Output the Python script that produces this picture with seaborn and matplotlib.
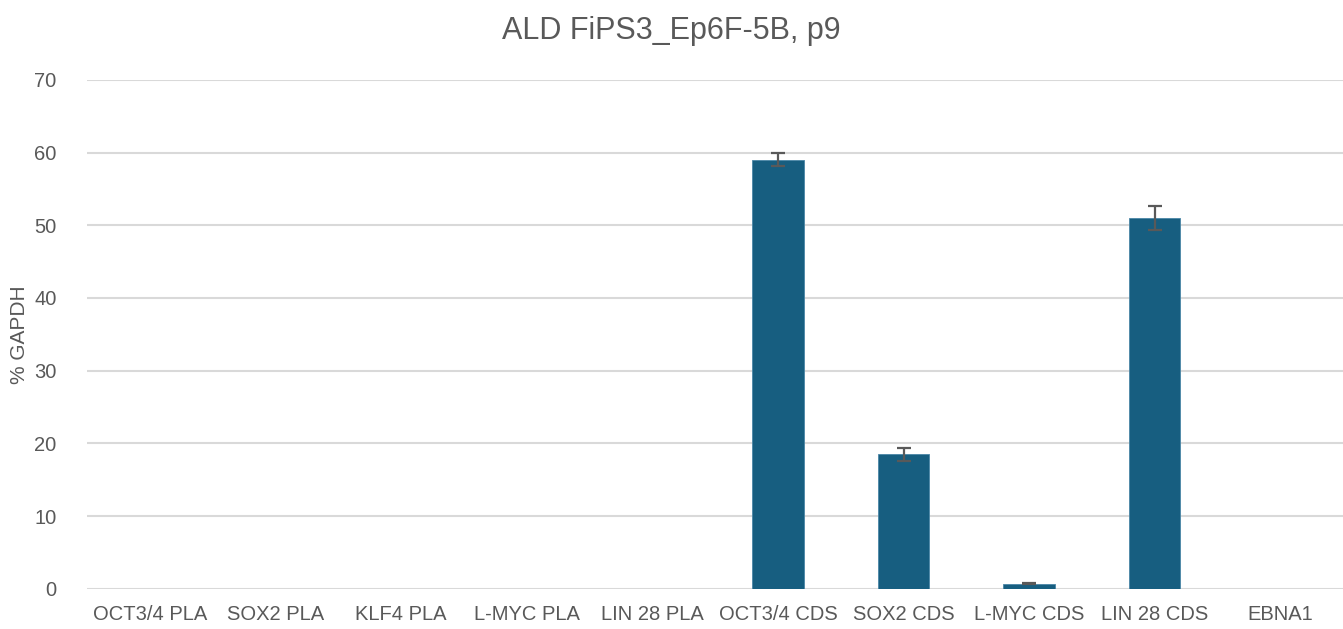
import pandas as pd
import matplotlib
matplotlib.use("Agg")
import matplotlib.pyplot as plt
import seaborn as sns

# Data
targets = ["OCT3/4 PLA", "SOX2 PLA", "KLF4 PLA", "L-MYC PLA", "LIN 28 PLA",
           "OCT3/4 CDS", "SOX2 CDS", "L-MYC CDS", "LIN 28 CDS", "EBNA1"]
pct_gapdh = [0, 0, 0, 0, 0, 59.0, 18.5, 0.7, 51.0, 0]
pct_err = [0, 0, 0, 0, 0, 0.9, 0.9, 0.1, 1.7, 0]

df = pd.DataFrame({"target": targets, "value": pct_gapdh, "err": pct_err})

sns.set_theme(style="white")
plt.rcParams["font.family"] = ["Liberation Sans", "DejaVu Sans"]

fig = plt.figure(figsize=(13.43, 6.29), dpi=100)
ax = fig.add_axes([0.065, 0.064, 0.935, 0.809])

sns.barplot(data=df, x="target", y="value", order=targets, color="#175E80",
            width=0.41, saturation=1, edgecolor="#4A86A6", linewidth=0.6,
            errorbar=None, ax=ax, zorder=3)

# error bars only where there is a measurable spread
mask = df["err"] > 0
ax.errorbar(df.index[mask], df["value"][mask], yerr=df["err"][mask], fmt="none",
            ecolor="#595959", elinewidth=1.6, capsize=5, capthick=1.6, zorder=4)

ax.set_ylim(0, 70)
ax.set_yticks(range(0, 71, 10))
ax.set_xlim(-0.5, len(targets) - 0.5)
ax.yaxis.grid(True, color="#D9D9D9", linewidth=1.5, zorder=0)
ax.set_axisbelow(True)
for s in ax.spines.values():
    s.set_visible(False)

ax.tick_params(axis="both", length=0, labelsize=14.5, labelcolor="#595959")
ax.tick_params(axis="y", pad=22)
ax.tick_params(axis="x", pad=12)
ax.set_xlabel("")
ax.set_ylabel("% GAPDH", fontsize=15, color="#595959", labelpad=4)
fig.suptitle("ALD FiPS3_Ep6F-5B, p9", y=0.975, fontsize=22, color="#595959")

fig.savefig("out.png", dpi=100)
